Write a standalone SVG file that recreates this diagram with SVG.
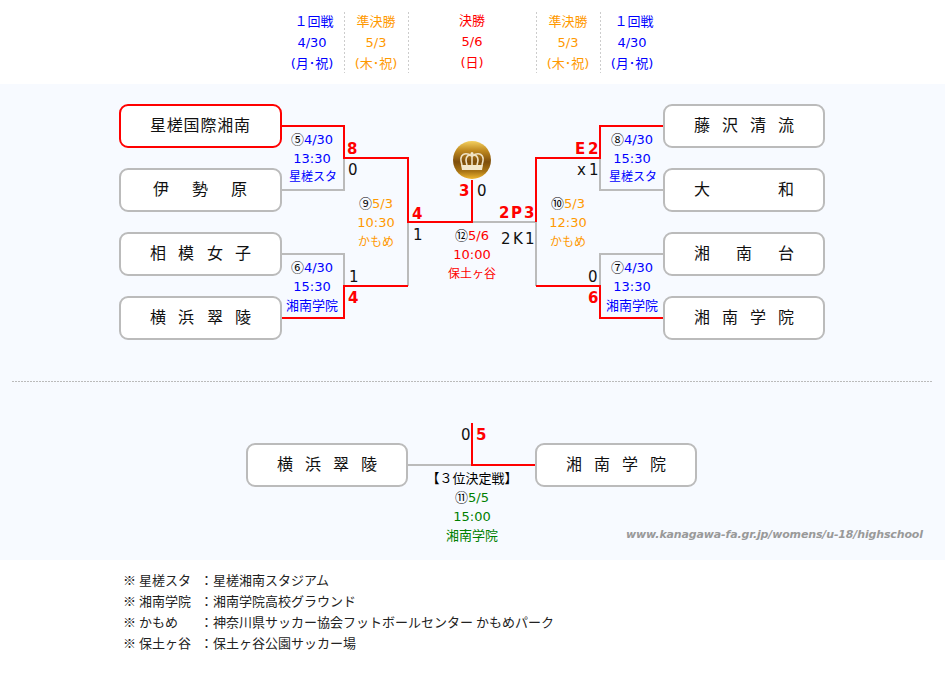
<svg xmlns="http://www.w3.org/2000/svg" width="945" height="680" viewBox="0 0 945 680">
<style>
text{font-family:"DejaVu Sans","Noto Sans CJK JP",sans-serif;font-size:13px}
.c{text-anchor:middle}
.blue{fill:#0000ff}.org{fill:#ff9900}.red{fill:#ff0000}.grn{fill:#008000}
.blk{fill:#000;font-family:"Noto Sans CJK JP",sans-serif}
.v{font-family:"Noto Sans CJK JP",sans-serif;font-size:12px}
.name{font-family:"Noto Sans CJK JP",sans-serif;font-size:16px;fill:#111}
.box{fill:#fff;stroke:#bbb;stroke-width:2}
.win{stroke:#ff0000}
.g{fill:none;stroke:#bbb;stroke-width:2}
.r{fill:none;stroke:#ff0000;stroke-width:2}
.s{font-size:15px;fill:#111}
.w{font-size:15px;font-weight:bold;fill:#ff0000}
.sep{stroke:#ccc;stroke-width:1;stroke-dasharray:2 2}
.note{font-family:"Noto Sans CJK JP",sans-serif;font-size:13px;fill:#222}
</style>
<defs>
<linearGradient id="gold" x1="0" y1="0" x2="0" y2="1">
<stop offset="0" stop-color="#f4d060"/><stop offset="0.25" stop-color="#c08a20"/><stop offset="0.55" stop-color="#7e4e0c"/><stop offset="0.8" stop-color="#a87414"/><stop offset="1" stop-color="#f0b830"/>
</linearGradient>
</defs>
<rect width="945" height="680" fill="#fff"/>
<rect x="0" y="84" width="945" height="476" fill="#f7faff"/>
<g id="header">
<line class="sep" x1="344.5" y1="12" x2="344.5" y2="73"/>
<line class="sep" x1="408.5" y1="12" x2="408.5" y2="73"/>
<line class="sep" x1="536.5" y1="12" x2="536.5" y2="73"/>
<line class="sep" x1="600.5" y1="12" x2="600.5" y2="73"/>
<text class="c blue" x="314" y="26">１回戦</text><text class="c blue" x="312" y="47">4/30</text><text class="c blue" x="312" y="68">(月･祝)</text>
<text class="c org" x="376" y="26">準決勝</text><text class="c org" x="376" y="47">5/3</text><text class="c org" x="376" y="68">(木･祝)</text>
<text class="c red" x="472" y="25">決勝</text><text class="c red" x="472" y="46">5/6</text><text class="c red" x="472" y="67">(日)</text>
<text class="c org" x="568" y="26">準決勝</text><text class="c org" x="568" y="47">5/3</text><text class="c org" x="568" y="68">(木･祝)</text>
<text class="c blue" x="634" y="26">１回戦</text><text class="c blue" x="632" y="47">4/30</text><text class="c blue" x="632" y="68">(月･祝)</text>
</g>
<g id="connectors">
<path class="g" d="M281 190H344V158"/>
<path class="g" d="M281 254H344V286"/>
<path class="g" d="M408 286V222"/>
<path class="g" d="M472 222H536"/>
<path class="g" d="M536 222V286"/>
<path class="g" d="M664 190H600V158"/>
<path class="g" d="M664 254H600V286"/>
<path class="g" d="M407 465H472"/>
<path class="r" d="M281 126H344V158H408V222H472V180"/>
<path class="r" d="M281 318H344V286H408"/>
<path class="r" d="M664 126H600V158H536V222"/>
<path class="r" d="M664 318H600V286H536"/>
<path class="r" d="M472 423V465H536"/>
</g>
<line id="divider" x1="12" y1="381.5" x2="933" y2="381.5" stroke="#bbb" stroke-width="1" stroke-dasharray="2 1"/>
<g id="n1"><rect class="box win" x="120" y="105" width="161" height="42" rx="8"/><text class="name" x="150" y="131" textLength="100">星槎国際湘南</text></g>
<g id="n2"><rect class="box" x="120" y="169" width="161" height="42" rx="8"/><text class="name" x="153 192 231" y="195">伊勢原</text></g>
<g id="n3"><rect class="box" x="120" y="233" width="161" height="42" rx="8"/><text class="name" x="150 178 207 235" y="259">相模女子</text></g>
<g id="n4"><rect class="box" x="120" y="297" width="161" height="42" rx="8"/><text class="name" x="150 178 207 235" y="323">横浜翠陵</text></g>
<g id="n5"><rect class="box" x="664" y="105" width="160" height="42" rx="8"/><text class="name" x="694 722 750 778" y="131">藤沢清流</text></g>
<g id="n6"><rect class="box" x="664" y="169" width="160" height="42" rx="8"/><text class="name" x="694 778" y="195">大和</text></g>
<g id="n7"><rect class="box" x="664" y="233" width="160" height="42" rx="8"/><text class="name" x="694 736 778" y="259">湘南台</text></g>
<g id="n8"><rect class="box" x="664" y="297" width="160" height="42" rx="8"/><text class="name" x="694 722 750 778" y="323">湘南学院</text></g>
<g id="n9"><rect class="box" x="247" y="444" width="160" height="42" rx="8"/><text class="name" x="277 305 333 361" y="470">横浜翠陵</text></g>
<g id="n10"><rect class="box" x="536" y="444" width="160" height="42" rx="8"/><text class="name" x="566 594 622 650" y="470">湘南学院</text></g>
<g id="medal">
<circle cx="472" cy="160" r="19" fill="url(#gold)"/>
<g fill="none" stroke="#efe2c4" stroke-width="1.6">
<path d="M462 165C458 153 466 152 472 156C478 152 486 153 482 165"/>
<path d="M467 165C464 156 469 154 472 156C475 154 480 156 477 165"/>
<path d="M472 156V165"/>
</g>
<path d="M461 165h22l-1 5h-20z" fill="#f4e8cc"/>
<circle cx="472" cy="153.500" r="1.500" fill="#f4e8cc"/>
</g>
<g id="match-info">
<text class="c blue" x="312" y="144"><tspan class="blk">⑤</tspan>4/30</text><text class="c blue" x="312" y="163">13:30</text><text class="c blue v" x="313" y="181">星槎スタ</text>
<text class="c blue" x="312" y="272"><tspan class="blk">⑥</tspan>4/30</text><text class="c blue" x="312" y="291">15:30</text><text class="c blue" x="312" y="310">湘南学院</text>
<text class="c blue" x="632" y="144"><tspan class="blk">⑧</tspan>4/30</text><text class="c blue" x="632" y="163">15:30</text><text class="c blue v" x="633" y="181">星槎スタ</text>
<text class="c blue" x="632" y="272"><tspan class="blk">⑦</tspan>4/30</text><text class="c blue" x="632" y="291">13:30</text><text class="c blue" x="632" y="310">湘南学院</text>
<text class="c org" x="376" y="208"><tspan class="blk">⑨</tspan>5/3</text><text class="c org" x="376" y="227">10:30</text><text class="c org v" x="376" y="246">かもめ</text>
<text class="c org" x="568" y="208"><tspan class="blk">⑩</tspan>5/3</text><text class="c org" x="568" y="227">12:30</text><text class="c org v" x="568" y="246">かもめ</text>
<text class="c red" x="472" y="240"><tspan class="blk">⑫</tspan>5/6</text><text class="c red" x="472" y="259">10:00</text><text class="c red v" x="472" y="278">保土ヶ谷</text>
<text class="c" fill="#000" x="472" y="483">【３位決定戦】</text>
<text class="c grn" x="472" y="502"><tspan class="blk">⑪</tspan>5/5</text><text class="c grn" x="472" y="521">15:00</text><text class="c grn" x="472" y="540">湘南学院</text>
</g>
<g id="scores">
<text class="w" x="347" y="154">8</text><text class="s" x="348" y="175">0</text>
<text class="w" x="412" y="219">4</text><text class="s" x="413" y="240">1</text>
<text class="s" x="349" y="282">1</text><text class="w" x="348" y="303">4</text>
<text class="w" x="459" y="196">3</text><text class="s" x="477" y="196">0</text>
<text class="w" x="499 511 524" y="218">2P3</text><text class="s" x="501 513 525" y="244">2K1</text>
<text class="w" x="575 588" y="154">E2</text><text class="s" x="577 589" y="175">x1</text>
<text class="s" x="588" y="282">0</text><text class="w" x="588" y="303">6</text>
<text class="s" x="461" y="440">0</text><text class="w" x="476" y="440">5</text>
</g>
<text id="url" x="626" y="538" textLength="297" style="font-family:'DejaVu Sans',sans-serif;font-size:11px;font-style:italic;font-weight:bold;fill:#999">www.kanagawa-fa.gr.jp/womens/u-18/highschool</text>
<g id="notes">
<text class="note" x="123" y="585">※ 星槎スタ</text><text class="note" x="200" y="585">：星槎湘南スタジアム</text>
<text class="note" x="123" y="606">※ 湘南学院</text><text class="note" x="200" y="606">：湘南学院高校グラウンド</text>
<text class="note" x="123" y="627">※ かもめ</text><text class="note" x="200" y="627">：神奈川県サッカー協会フットボールセンター かもめパーク</text>
<text class="note" x="123" y="648">※ 保土ヶ谷</text><text class="note" x="200" y="648">：保土ヶ谷公園サッカー場</text>
</g>
</svg>
